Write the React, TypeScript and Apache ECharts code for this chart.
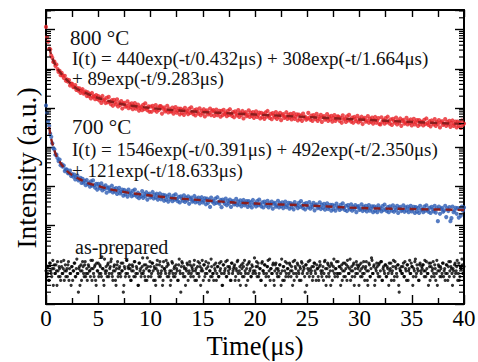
import { useEffect, useRef } from 'react';
import * as echarts from 'echarts';

// sampling step of the decay curves (μs)
const DT = 0.1;
// the second as-prepared sweep is sampled half a step later
const BLACK_B_OFFSET = 0.05;

// 800 °C decay (a.u.), one value per DT starting at t = 0
const RED_800C = [
  117000, 64600, 49500, 32200, 31400, 21900, 19100, 15000, 15200, 11900,
  12900, 9850, 8340, 8820, 6880, 7850, 6750, 5890, 6630, 4940,
  5390, 4700, 5130, 3740, 4180, 4130, 3420, 3430, 3840, 2900,
  3230, 2780, 3170, 2440, 2750, 3010, 2330, 2470, 2640, 2020,
  2510, 2000, 2260, 1760, 2420, 1940, 2010, 1680, 2130, 1710,
  2020, 1560, 1830, 1350, 2030, 1570, 1650, 1340, 1820, 1400,
  1920, 1450, 1260, 1580, 1140, 1610, 1390, 1230, 1660, 1100,
  1380, 1200, 1500, 970, 1280, 1360, 1080, 1150, 1480, 990,
  1250, 1060, 1310, 930, 1130, 1330, 960, 1070, 1220, 860,
  1010, 1080, 880, 1210, 940, 1310, 990, 880, 1100, 800,
  1090, 800, 1130, 980, 880, 1190, 800, 1020, 890, 1120,
  1110, 720, 960, 1030, 820, 880, 1140, 770, 970, 820,
  820, 1020, 720, 890, 1050, 760, 850, 970, 690, 960,
  750, 890, 670, 1010, 790, 850, 700, 960, 750, 1040,
  790, 700, 880, 650, 920, 800, 720, 980, 660, 840,
  730, 930, 610, 810, 870, 690, 750, 970, 660, 830,
  880, 630, 770, 910, 660, 740, 850, 600, 840, 660,
  900, 710, 760, 620, 850, 670, 930, 710, 630, 790,
  580, 820, 720, 650, 880, 590, 750, 660, 840, 540,
  720, 780, 620, 670, 870, 590, 750, 630, 790, 560,
  690, 820, 590, 660, 760, 540, 750, 590, 700, 530,
  770, 600, 840, 640, 560, 710, 520, 740, 650, 580,
  790, 530, 680, 590, 750, 490, 650, 700, 560, 600,
  780, 530, 670, 570, 710, 510, 620, 740, 530, 600,
  690, 480, 680, 530, 630, 470, 720, 570, 600, 500,
  540, 750, 570, 500, 640, 470, 660, 580, 520, 710,
  470, 600, 530, 670, 440, 580, 620, 500, 540, 700,
  470, 600, 510, 630, 450, 550, 660, 470, 530, 610,
  600, 470, 560, 420, 650, 510, 540, 440, 610, 480,
  670, 510, 450, 570, 420, 590, 520, 460, 630, 430,
  540, 470, 600, 390, 520, 560, 450, 480, 620, 420,
  530, 450, 570, 400, 490, 590, 420, 480, 550, 390,
  380, 580, 450, 490, 400, 550, 430, 600, 460, 400,
  510, 370, 530, 460, 420, 570, 380, 480, 420, 540,
  350, 470, 500, 400, 430, 560, 380, 480, 410, 510,
  360, 440, 530, 380, 430, 490, 350, 490, 380, 450,
  440, 360, 500, 390, 540, 410, 370, 460, 340, 480,
  420, 380, 520, 350, 440, 390, 490, 320, 430, 460,
  370, 400, 520, 350, 440, 380, 470, 330, 410, 480,
  350, 390, 450, 320, 450, 350, 420, 310, 480, 370,
  400,
];

// 700 °C decay (a.u.)
const BLUE_700C = [
  1160, 752, 454, 353, 220, 184, 126, 94, 88.7, 64,
  64.5, 53, 44.3, 48.5, 34.6, 37, 31.8, 34.2, 24.6, 27.1,
  26.7, 21.6, 21.7, 25.3, 18.4, 20.7, 17.8, 20, 15.1, 17.1,
  19, 14.3, 15.2, 16.5, 12.3, 15.6, 12.4, 13.9, 10.7, 14.6,
  11.6, 12.2, 9.9, 13.5, 10.4, 14.2, 10.7, 9.3, 11.6, 8.3,
  11.6, 10, 8.9, 11.9, 7.9, 9.9, 8.6, 10.7, 6.9, 9,
  9.5, 7.6, 8.1, 10.4, 7, 8.7, 7.4, 9.1, 6.4, 7.8,
  9.2, 6.6, 7.3, 8.3, 5.8, 8.1, 6.3, 7.4, 5.5, 8.3,
  6.5, 6.9, 5.6, 7.7, 6, 8.3, 6.2, 5.5, 6.9, 5,
  6.2, 5.6, 7.6, 5.1, 6.4, 5.6, 7.1, 4.6, 6.1, 6.5,
  5.2, 5.6, 7.2, 4.9, 6.2, 5.2, 6.5, 4.6, 5.6, 6.6,
  4.7, 5.3, 6.1, 4.3, 5.9, 4.6, 5.5, 4.1, 6.2, 4.8,
  5.2, 4.2, 5.8, 4.6, 6.3, 4.8, 4.2, 5.4, 3.9, 5.6,
  4.9, 4.3, 5.9, 4, 5.1, 4.4, 5.6, 3.6, 4.8, 5.2,
  4.1, 4.4, 5.7, 3.9, 4.9, 4.2, 5.2, 3.7, 4.5, 5.3,
  3.9, 4.3, 5, 3.5, 4.9, 3.8, 4.5, 3, 5.2, 4.1,
  4.3, 3.6, 4.9, 3.8, 5.3, 4, 3.6, 4.5, 2.95, 4.6,
  4.1, 3.6, 4.9, 3.3, 4.2, 3.7, 4.6, 3, 4, 4.3,
  3.45, 3.7, 4.8, 3.3, 4.1, 3.5, 4.4, 3.1, 3.8, 4.5,
  3.3, 3.7, 4.2, 3, 4.2, 3.3, 3.9, 2.9, 4.5, 3.5,
  3.7, 3.1, 4.2, 3.3, 4.6, 3.5, 3.1, 3.9, 2.9, 4.1,
  3.55, 3.2, 4.3, 2.9, 3.7, 3.25, 4.1, 2.7, 3.6, 3.8,
  3.05, 3.3, 4.3, 2.9, 3.7, 3.15, 3.9, 2.8, 3.4, 4.1,
  2.95, 3.3, 3.8, 2.7, 3.75, 2.95, 3.5, 2.6, 4, 3.2,
  3.35, 2.8, 3.8, 3, 4.2, 3.2, 2.8, 3.6, 2.6, 3.75,
  3.25, 2.9, 4, 2.7, 3.4, 3, 3.8, 2.45, 3.3, 3.5,
  2.8, 3, 3.9, 2.65, 3.4, 2.85, 3.6, 2.55, 3.15, 3.7,
  2.65, 2.95, 3.4, 2.4, 3.4, 2.65, 3.2, 2.4, 3.65, 2.85,
  3, 2.5, 3.4, 2.7, 3.7, 2.85, 2.5, 3.2, 2.35, 3.35,
  2.85, 2.6, 3.5, 2.4, 3, 2.65, 3.35, 2.2, 2.95, 3.15,
  2.5, 2.7, 3.5, 2.35, 3, 2.55, 3.2, 2.3, 2.8, 3.35,
  2.4, 2.7, 3.1, 2.2, 3.1, 2.4, 2.9, 2.2, 3.3, 2.6,
  2.8, 2.3, 3.15, 2.5, 3.45, 2.65, 2.35, 2.95, 2.2, 3.1,
  2.7, 2.4, 3.3, 2.25, 2.85, 2.5, 3.2, 2.1, 2.75, 3,
  2.35, 2.55, 3.3, 2.25, 2.9, 2.45, 3.05, 2.2, 2.7, 3.2,
  2.3, 2.6, 3, 2.1, 2.95, 2.3, 2.8, 2.1, 3.2, 2.5,
  2.65, 2.2, 3.05, 2.4, 3.3, 2.55, 2.25, 2.85, 2.1, 3,
  2.6, 2.3, 3.2, 2.15, 2.75, 1.3, 3.05, 2, 2.65, 2.85,
  2.25, 2.45, 3.2, 1.65, 2.75, 2.35, 2.95, 1.3, 1.55, 3.05,
  2.2, 2.45, 2.85, 2, 2.8, 1.6, 2.65, 1.8, 3.05, 2.4,
  2.9,
];

// as-prepared (a.u.), sweep A at t = i*DT
const BLACK_ASPREP_A = [
  0.07, 0.05, 0.09, 0.04, 0.11, 0.06, 0.08, 0.03, 0.1, 0.06, 0.07, 0.12, 0.05, 0.08, 0.04, 0.09, 0.06, 0.13, 0.07, 0.05,
  0.08, 0.1, 0.04, 0.06, 0.03, 0.09, 0.07, 0.11, 0.05, 0.08, 0.06, 0.02, 0.09, 0.07, 0.04, 0.12, 0.06, 0.1, 0.05, 0.08,
  0.06, 0.09, 0.07, 0.13, 0.04, 0.08, 0.05, 0.1, 0.03, 0.07, 0.11, 0.06, 0.09, 0.05, 0.08, 0.04, 0.14, 0.06, 0.07, 0.1,
  0.05, 0.08, 0.12, 0.06, 0.04, 0.09, 0.07, 0.03, 0.1, 0.05, 0.08, 0.06, 0.11, 0.07, 0.02, 0.09, 0.05, 0.13, 0.06, 0.08,
  0.1, 0.04, 0.07, 0.09, 0.05, 0.12, 0.06, 0.08, 0.03, 0.11, 0.07, 0.05, 0.09, 0.06, 0.1, 0.04, 0.08, 0.15, 0.05, 0.07,
  0.09, 0.06, 0.11, 0.04, 0.08, 0.03, 0.1, 0.07, 0.05, 0.12, 0.06, 0.09, 0.04, 0.08, 0.07, 0.13, 0.05, 0.1, 0.06, 0.03,
  0.07, 0.11, 0.05, 0.09, 0.06, 0.08, 0.04, 0.1, 0.07, 0.02, 0.12, 0.06, 0.09, 0.05, 0.08, 0.11, 0.04, 0.07, 0.1, 0.06,
  0.08, 0.05, 0.13, 0.07, 0.04, 0.09, 0.06, 0.11, 0.03, 0.08, 0.07, 0.1, 0.05, 0.12, 0.06, 0.09, 0.04, 0.07, 0.14, 0.05,
  0.06, 0.1, 0.07, 0.04, 0.09, 0.05, 0.11, 0.08, 0.06, 0.03, 0.1, 0.07, 0.12, 0.05, 0.09, 0.06, 0.08, 0.04, 0.11, 0.07,
  0.09, 0.04, 0.08, 0.12, 0.06, 0.07, 0.03, 0.1, 0.05, 0.09, 0.13, 0.06, 0.08, 0.04, 0.11, 0.07, 0.05, 0.1, 0.06, 0.02,
  0.07, 0.09, 0.05, 0.11, 0.06, 0.08, 0.04, 0.12, 0.07, 0.1, 0.03, 0.06, 0.09, 0.05, 0.14, 0.08, 0.06, 0.1, 0.04, 0.07,
  0.11, 0.06, 0.08, 0.05, 0.1, 0.03, 0.07, 0.09, 0.04, 0.12, 0.06, 0.08, 0.05, 0.11, 0.07, 0.09, 0.03, 0.06, 0.13, 0.08,
  0.05, 0.1, 0.06, 0.09, 0.04, 0.11, 0.07, 0.08, 0.02, 0.1, 0.06, 0.12, 0.05, 0.08, 0.07, 0.04, 0.09, 0.11, 0.06, 0.1,
  0.08, 0.04, 0.12, 0.07, 0.05, 0.09, 0.06, 0.13, 0.03, 0.08, 0.1, 0.05, 0.07, 0.11, 0.04, 0.09, 0.06, 0.08, 0.12, 0.05,
  0.06, 0.09, 0.03, 0.1, 0.07, 0.05, 0.11, 0.08, 0.04, 0.09, 0.06, 0.14, 0.07, 0.05, 0.1, 0.03, 0.08, 0.12, 0.06, 0.09,
  0.1, 0.05, 0.08, 0.06, 0.12, 0.04, 0.09, 0.07, 0.03, 0.11, 0.05, 0.08, 0.13, 0.06, 0.1, 0.04, 0.07, 0.09, 0.05, 0.11,
  0.07, 0.12, 0.04, 0.09, 0.06, 0.1, 0.05, 0.08, 0.03, 0.07, 0.11, 0.06, 0.09, 0.04, 0.12, 0.08, 0.05, 0.1, 0.02, 0.07,
  0.09, 0.06, 0.11, 0.05, 0.08, 0.04, 0.1, 0.07, 0.13, 0.06, 0.09, 0.03, 0.08, 0.12, 0.05, 0.1, 0.07, 0.04, 0.11, 0.06,
  0.08, 0.1, 0.05, 0.07, 0.12, 0.06, 0.03, 0.09, 0.11, 0.05, 0.08, 0.06, 0.1, 0.04, 0.13, 0.07, 0.09, 0.05, 0.08, 0.06,
  0.11, 0.07, 0.04, 0.1, 0.06, 0.09, 0.05, 0.12, 0.08, 0.03, 0.07, 0.1, 0.06, 0.09, 0.04, 0.11, 0.05, 0.08, 0.14, 0.06,
  0.09,
];

// as-prepared (a.u.), sweep B at t = i*DT + BLACK_B_OFFSET
const BLACK_ASPREP_B = [
  0.09, 0.06, 0.04, 0.11, 0.07, 0.05, 0.13, 0.08, 0.06, 0.1, 0.03, 0.07, 0.09, 0.05, 0.12, 0.06, 0.08, 0.04, 0.1, 0.07,
  0.05, 0.12, 0.08, 0.06, 0.09, 0.04, 0.07, 0.11, 0.05, 0.14, 0.06, 0.08, 0.03, 0.1, 0.07, 0.09, 0.05, 0.12, 0.06, 0.04,
  0.1, 0.07, 0.05, 0.08, 0.13, 0.06, 0.09, 0.04, 0.11, 0.07, 0.05, 0.1, 0.06, 0.16, 0.08, 0.03, 0.07, 0.09, 0.05, 0.11,
  0.06, 0.09, 0.14, 0.05, 0.07, 0.1, 0.04, 0.08, 0.12, 0.06, 0.09, 0.05, 0.07, 0.11, 0.03, 0.08, 0.06, 0.13, 0.09, 0.05,
  0.08, 0.04, 0.1, 0.07, 0.12, 0.05, 0.09, 0.06, 0.03, 0.11, 0.08, 0.06, 0.15, 0.07, 0.05, 0.1, 0.04, 0.09, 0.07, 0.12,
  0.05, 0.11, 0.07, 0.09, 0.04, 0.08, 0.13, 0.06, 0.1, 0.05, 0.07, 0.03, 0.12, 0.08, 0.06, 0.09, 0.11, 0.05, 0.07, 0.04,
  0.12, 0.06, 0.08, 0.05, 0.1, 0.07, 0.04, 0.14, 0.06, 0.09, 0.11, 0.05, 0.08, 0.03, 0.07, 0.1, 0.06, 0.12, 0.05, 0.09,
  0.07, 0.1, 0.04, 0.08, 0.06, 0.12, 0.05, 0.09, 0.07, 0.13, 0.04, 0.1, 0.06, 0.08, 0.02, 0.11, 0.07, 0.05, 0.09, 0.06,
  0.04, 0.08, 0.11, 0.06, 0.09, 0.05, 0.07, 0.12, 0.03, 0.1, 0.06, 0.08, 0.05, 0.13, 0.07, 0.09, 0.04, 0.11, 0.06, 0.08,
  0.1, 0.05, 0.07, 0.13, 0.04, 0.09, 0.06, 0.08, 0.11, 0.05, 0.07, 0.03, 0.1, 0.06, 0.12, 0.08, 0.05, 0.09, 0.07, 0.15,
  0.06, 0.12, 0.09, 0.05, 0.08, 0.04, 0.11, 0.07, 0.06, 0.1, 0.05, 0.09, 0.13, 0.07, 0.04, 0.08, 0.06, 0.11, 0.03, 0.1,
  0.08, 0.05, 0.07, 0.1, 0.06, 0.14, 0.04, 0.09, 0.07, 0.05, 0.11, 0.08, 0.06, 0.1, 0.05, 0.07, 0.12, 0.04, 0.09, 0.06,
  0.11, 0.07, 0.04, 0.08, 0.12, 0.06, 0.09, 0.05, 0.1, 0.03, 0.08, 0.07, 0.13, 0.06, 0.09, 0.05, 0.11, 0.07, 0.04, 0.08,
  0.05, 0.09, 0.1, 0.06, 0.07, 0.04, 0.12, 0.08, 0.05, 0.11, 0.06, 0.09, 0.03, 0.1, 0.07, 0.14, 0.05, 0.08, 0.06, 0.12,
  0.09, 0.06, 0.08, 0.04, 0.11, 0.07, 0.05, 0.1, 0.13, 0.06, 0.08, 0.04, 0.09, 0.07, 0.11, 0.05, 0.06, 0.1, 0.08, 0.03,
  0.07, 0.11, 0.05, 0.09, 0.06, 0.08, 0.12, 0.04, 0.07, 0.1, 0.05, 0.15, 0.06, 0.09, 0.03, 0.08, 0.11, 0.06, 0.1, 0.05,
  0.12, 0.04, 0.08, 0.07, 0.1, 0.05, 0.09, 0.06, 0.11, 0.08, 0.04, 0.07, 0.13, 0.05, 0.09, 0.06, 0.1, 0.03, 0.08, 0.07,
  0.06, 0.09, 0.05, 0.12, 0.07, 0.1, 0.04, 0.08, 0.06, 0.11, 0.09, 0.05, 0.07, 0.14, 0.06, 0.08, 0.04, 0.1, 0.07, 0.09,
  0.1, 0.07, 0.13, 0.05, 0.08, 0.06, 0.11, 0.04, 0.09, 0.07, 0.12, 0.05, 0.08, 0.06, 0.03, 0.1, 0.07, 0.09, 0.05, 0.11,
  0.05, 0.08, 0.06, 0.1, 0.04, 0.12, 0.07, 0.09, 0.06, 0.08, 0.05, 0.11, 0.07, 0.13, 0.06, 0.04, 0.09, 0.08, 0.1, 0.06,
];

// three-exponential fits (dashed lines)
const FIT_T = [0.3, 0.5, 0.75, 1, 1.5, 2, 2.5, 3, 4, 5, 6, 7, 8, 10, 12, 15, 18, 20, 25, 30, 35, 40];
const FIT_800C = [36000, 22500, 15200, 11100, 7270, 5180, 3860, 3050, 2280, 1800, 1510, 1300, 1160, 1000, 889, 790, 724, 683, 589, 509, 440, 391];
const FIT_700C = [327, 162, 92, 59.7, 35.6, 24.7, 19.5, 16.4, 12.2, 10.2, 8.59, 7.64, 6.79, 5.86, 5.06, 4.44, 3.88, 3.66, 3.26, 2.81, 2.65, 2.5];

const X_MIN = 0;
const X_MAX = 40;
const Y_MIN = 0.01;
const Y_MAX = 316227.77;

const FONT = '"Liberation Serif", "Times New Roman", serif';

const ANNOTATIONS = [
  { text: '800 °C', x: 70, y: 37.5, size: 21 },
  { text: 'I(t) = 440exp(-t/0.432μs) + 308exp(-t/1.664μs)', x: 72, y: 58.5, size: 19 },
  { text: '+ 89exp(-t/9.283μs)', x: 72, y: 78, size: 19 },
  { text: '700 °C', x: 72, y: 126.5, size: 21 },
  { text: 'I(t) = 1546exp(-t/0.391μs) + 492exp(-t/2.350μs)', x: 72, y: 149, size: 19 },
  { text: '+ 121exp(-t/18.633μs)', x: 72, y: 170, size: 19 },
  { text: 'as-prepared', x: 75, y: 247, size: 20 },
];

function minorLogTicks(): number[][] {
  const out: number[][] = [];
  for (let e = -2; e <= 5; e++) {
    for (let m = 2; m <= 9; m++) {
      const v = m * Math.pow(10, e);
      if (v < Y_MAX) out.push([0, v]);
    }
  }
  return out;
}

export default function App() {
  const ref = useRef<HTMLDivElement>(null);
  useEffect(() => {
    if (!ref.current) return;
    const chart = echarts.init(ref.current, undefined, { renderer: 'svg' });
    const axisLine = { onZero: false, lineStyle: { color: '#000', width: 2 } };
    const tickStyle = { color: '#000', width: 1.4 };
    const yAxisBase = {
      type: 'log',
      logBase: 10,
      min: Y_MIN,
      max: Y_MAX,
      axisLine,
      axisTick: { inside: true, length: 9, lineStyle: tickStyle },
      axisLabel: { show: false },
      splitLine: { show: false },
    };
    const option: any = {
      animation: false,
      backgroundColor: '#fff',
      grid: { left: 46, right: 14, top: 10, bottom: 58, outerBoundsMode: 'none' },
      xAxis: [
        {
          type: 'value',
          position: 'bottom',
          min: X_MIN,
          max: X_MAX,
          interval: 5,
          axisLine,
          axisTick: { inside: true, length: 9, lineStyle: tickStyle },
          minorTick: { show: true, splitNumber: 2, length: 6, lineStyle: tickStyle },
          axisLabel: { color: '#000', fontSize: 23, fontFamily: FONT, margin: 3 },
          splitLine: { show: false },
          name: 'Time(μs)',
          nameLocation: 'middle',
          nameGap: 28,
          nameMoveOverlap: false,
          nameTextStyle: { color: '#000', fontSize: 26.5, fontFamily: FONT },
        },
        {
          type: 'value',
          position: 'top',
          min: X_MIN,
          max: X_MAX,
          interval: 2.5,
          axisLine,
          axisTick: { inside: true, length: 7, lineStyle: tickStyle },
          axisLabel: { show: false },
          splitLine: { show: false },
        },
      ],
      yAxis: [
        { ...yAxisBase, position: 'left' },
        { ...yAxisBase, position: 'right' },
      ],
      graphic: [
        ...ANNOTATIONS.map((a) => ({
          type: 'text',
          x: a.x,
          y: a.y,
          z: 100,
          style: {
            text: a.text,
            fill: '#111',
            fontSize: a.size,
            fontFamily: FONT,
            align: 'left',
            verticalAlign: 'middle',
            textAlign: 'left',
            textVerticalAlign: 'middle',
          },
        })),
        {
          type: 'text',
          x: 26,
          y: 168,
          rotation: Math.PI / 2,
          style: {
            text: 'Intensity (a.u.)',
            fill: '#000',
            fontSize: 27.5,
            fontFamily: FONT,
            align: 'center',
            verticalAlign: 'middle',
            textAlign: 'center',
            textVerticalAlign: 'middle',
          },
        },
      ],
      series: [
        {
          type: 'scatter',
          name: '800 °C',
          data: RED_800C.map((v, i) => [i * DT, v]),
          symbolSize: 4.2,
          itemStyle: { color: '#e8262b' },
          silent: true,
        },
        {
          type: 'scatter',
          name: '700 °C',
          data: BLUE_700C.map((v, i) => [i * DT, v]),
          symbolSize: 4.2,
          itemStyle: { color: '#2d5db4' },
          silent: true,
        },
        {
          type: 'scatter',
          name: 'as-prepared',
          data: BLACK_ASPREP_A.map((v, i) => [i * DT, v]),
          symbolSize: 3.2,
          itemStyle: { color: '#000' },
          silent: true,
        },
        {
          type: 'scatter',
          name: 'as-prepared (b)',
          data: BLACK_ASPREP_B.map((v, i) => [i * DT + BLACK_B_OFFSET, v]),
          symbolSize: 3.2,
          itemStyle: { color: '#000' },
          silent: true,
        },
        {
          type: 'line',
          name: 'fit 800',
          data: FIT_T.map((t, i) => [t, FIT_800C[i]]),
          showSymbol: false,
          smooth: 0.3,
          z: 5,
          lineStyle: { color: '#8a1d1d', width: 2.4, type: [7, 5] },
          silent: true,
        },
        {
          type: 'line',
          name: 'fit 700',
          data: FIT_T.map((t, i) => [t, FIT_700C[i]]),
          showSymbol: false,
          smooth: 0.3,
          z: 5,
          lineStyle: { color: '#8a1d1d', width: 2.4, type: [7, 5] },
          silent: true,
        },
        {
          type: 'custom',
          name: 'minor ticks',
          silent: true,
          clip: false,
          z: 10,
          data: minorLogTicks(),
          renderItem: (params: any, api: any) => {
            const v = api.value(1);
            const pl = api.coord([X_MIN, v]);
            const pr = api.coord([X_MAX, v]);
            const st = { stroke: '#000', lineWidth: 1.2 };
            return {
              type: 'group',
              children: [
                { type: 'line', shape: { x1: pl[0], y1: pl[1], x2: pl[0] + 5, y2: pl[1] }, style: st },
                { type: 'line', shape: { x1: pr[0] - 5, y1: pr[1], x2: pr[0], y2: pr[1] }, style: st },
              ],
            };
          },
        },
      ],
    };
    chart.setOption(option);
    return () => chart.dispose();
  }, []);
  return (
    <div
      ref={ref}
      style={{ position: 'fixed', left: 0, top: 0, width: 478, height: 362, background: '#fff' }}
    />
  );
}
